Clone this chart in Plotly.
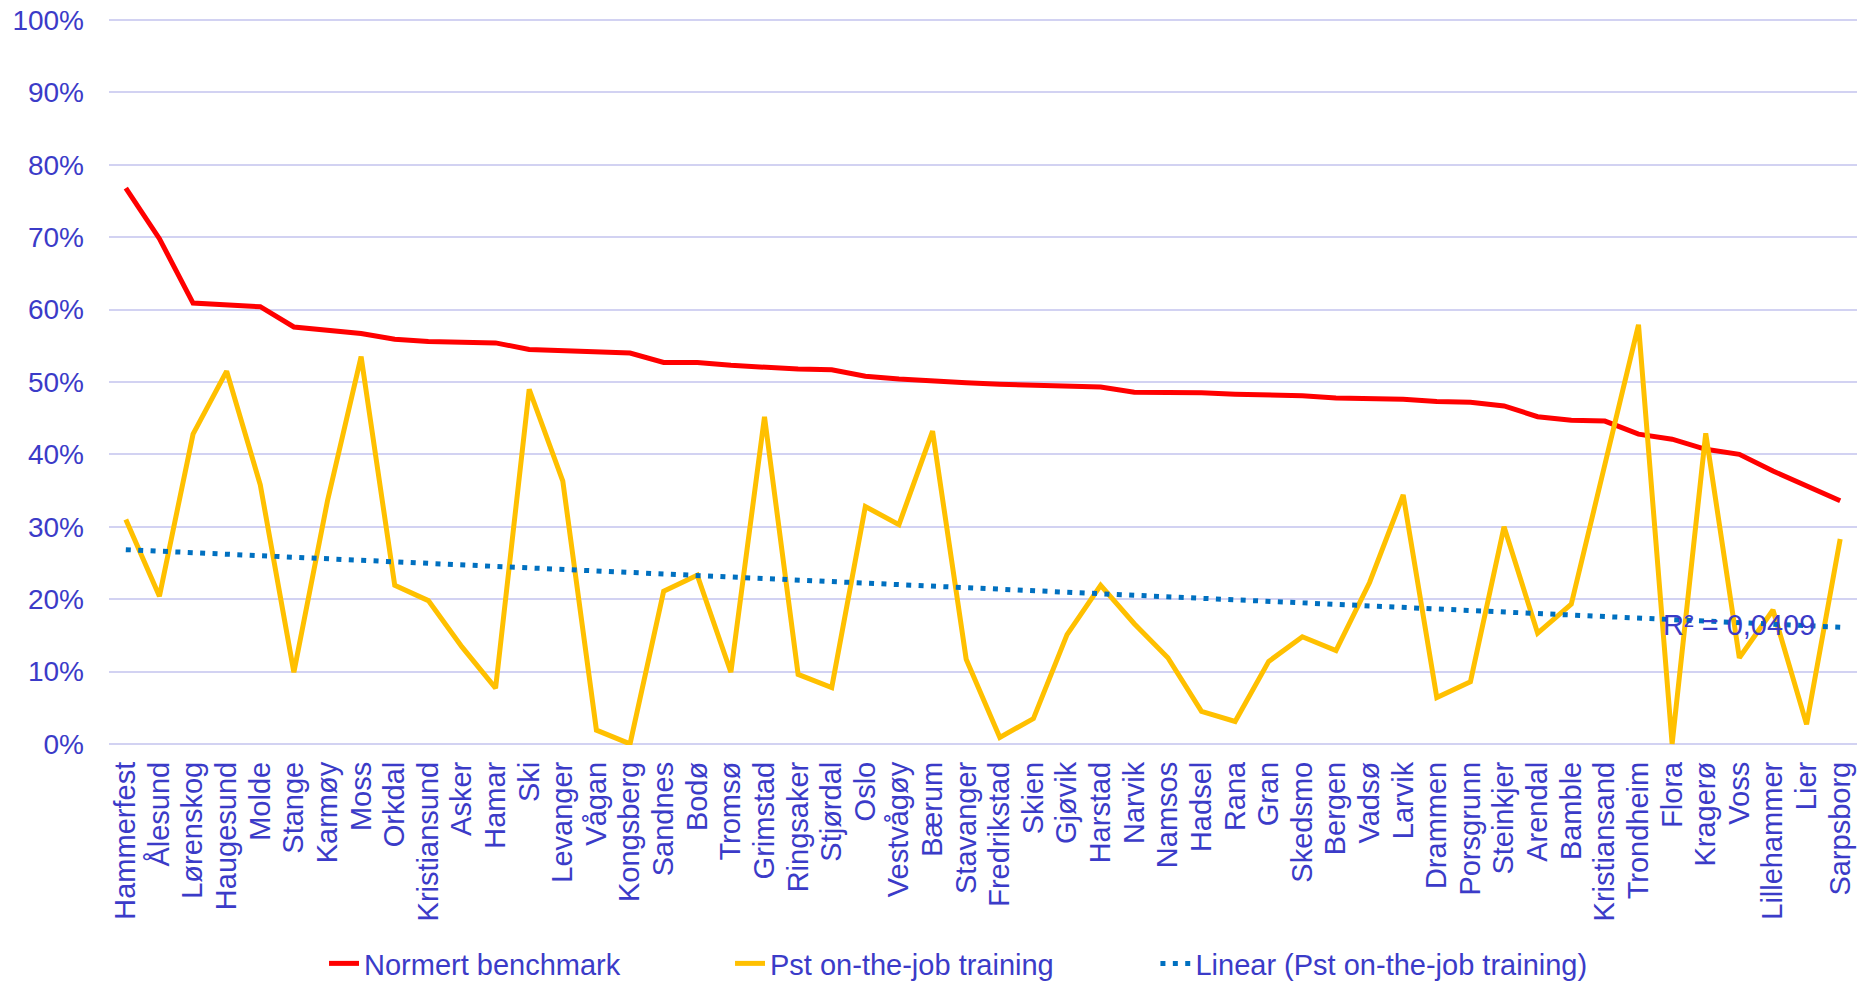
import numpy as np
import plotly.graph_objects as go

# Municipalities, ordered by the normed benchmark
kommuner = [
    "Hammerfest", "Ålesund", "Lørenskog", "Haugesund", "Molde", "Stange", "Karmøy",
    "Moss", "Orkdal", "Kristiansund", "Asker", "Hamar", "Ski", "Levanger", "Vågan",
    "Kongsberg", "Sandnes", "Bodø", "Tromsø", "Grimstad", "Ringsaker", "Stjørdal",
    "Oslo", "Vestvågøy", "Bærum", "Stavanger", "Fredrikstad", "Skien", "Gjøvik",
    "Harstad", "Narvik", "Namsos", "Hadsel", "Rana", "Gran", "Skedsmo", "Bergen",
    "Vadsø", "Larvik", "Drammen", "Porsgrunn", "Steinkjer", "Arendal", "Bamble",
    "Kristiansand", "Trondheim", "Flora", "Kragerø", "Voss", "Lillehammer", "Lier",
    "Sarpsborg",
]

normert_benchmark = [
    0.768, 0.698, 0.609, 0.607, 0.604, 0.576, 0.572, 0.567, 0.559, 0.556, 0.555,
    0.554, 0.545, 0.543, 0.541, 0.540, 0.527, 0.527, 0.523, 0.520, 0.518, 0.517,
    0.508, 0.504, 0.501, 0.499, 0.497, 0.496, 0.494, 0.493, 0.486, 0.486, 0.485,
    0.483, 0.482, 0.481, 0.478, 0.477, 0.476, 0.473, 0.472, 0.467, 0.452, 0.447,
    0.446, 0.428, 0.421, 0.407, 0.400, 0.377, 0.357, 0.336,
]

pst_on_the_job = [
    0.310, 0.204, 0.428, 0.515, 0.358, 0.099, 0.336, 0.535, 0.219, 0.198, 0.134,
    0.077, 0.490, 0.363, 0.019, 0.000, 0.211, 0.233, 0.099, 0.452, 0.096, 0.078,
    0.328, 0.303, 0.432, 0.117, 0.009, 0.035, 0.151, 0.219, 0.166, 0.119, 0.045,
    0.031, 0.114, 0.148, 0.129, 0.223, 0.344, 0.064, 0.086, 0.300, 0.153, 0.193,
    0.386, 0.579, 0.000, 0.429, 0.119, 0.185, 0.027, 0.283,
]

r2_label = "R² = 0,0409"

TEXT_BLUE = "#3B3BC8"
GRID = "#D2D2F2"
FONT = "Liberation Sans, Arial, sans-serif"
PAD = "\u00a0"  # non-breaking space, widens legend entries

# Linear trend of the on-the-job share over category position
idx = np.arange(len(kommuner))
slope, intercept = np.polyfit(idx, np.array(pst_on_the_job), 1)
trend = slope * idx + intercept

fig = go.Figure()
fig.add_trace(go.Scatter(
    x=kommuner, y=normert_benchmark, mode="lines", name="Normert benchmark" + PAD * 13,
    line=dict(color="#FF0000", width=5),
))
fig.add_trace(go.Scatter(
    x=kommuner, y=pst_on_the_job, mode="lines", name="Pst on-the-job training" + PAD * 12,
    line=dict(color="#FFC000", width=5),
))
fig.add_trace(go.Scatter(
    x=kommuner, y=trend, mode="lines", name="Linear (Pst on-the-job training)",
    line=dict(color="#0070C0", width=5, dash="5px,7.4px"),
))

fig.add_annotation(
    x="Voss", y=0.164, text=r2_label, showarrow=False,
    font=dict(family=FONT, size=29, color=TEXT_BLUE),
    xanchor="center", yanchor="middle",
)

fig.update_layout(
    width=1864, height=981,
    margin=dict(l=109, r=7, t=19, b=236, autoexpand=False),
    paper_bgcolor="white", plot_bgcolor="white",
    font=dict(family=FONT, size=28, color=TEXT_BLUE),
    showlegend=True,
    legend=dict(
        orientation="h", x=0.486, xanchor="center", y=-0.301, yanchor="middle",
        font=dict(family=FONT, size=29, color=TEXT_BLUE),
        bgcolor="rgba(0,0,0,0)",
    ),
    xaxis=dict(
        type="category", range=[-0.5, len(kommuner) - 0.5],
        tickmode="linear", dtick=1,
        tickangle=-90, showgrid=False, showline=False, zeroline=False,
        tickfont=dict(family=FONT, size=29, color=TEXT_BLUE),
        ticks="", ticklabelstandoff=10, automargin=False,
    ),
    yaxis=dict(
        range=[-0.0015, 1.0015], tickvals=[i / 10 for i in range(11)], tickformat=".0%",
        showgrid=True, gridcolor=GRID, gridwidth=1.5,
        zeroline=False, showline=False, ticks="",
        tickfont=dict(family=FONT, size=28, color=TEXT_BLUE),
        ticklabelstandoff=24, automargin=False,
    ),
)

fig.write_html("out.html")
